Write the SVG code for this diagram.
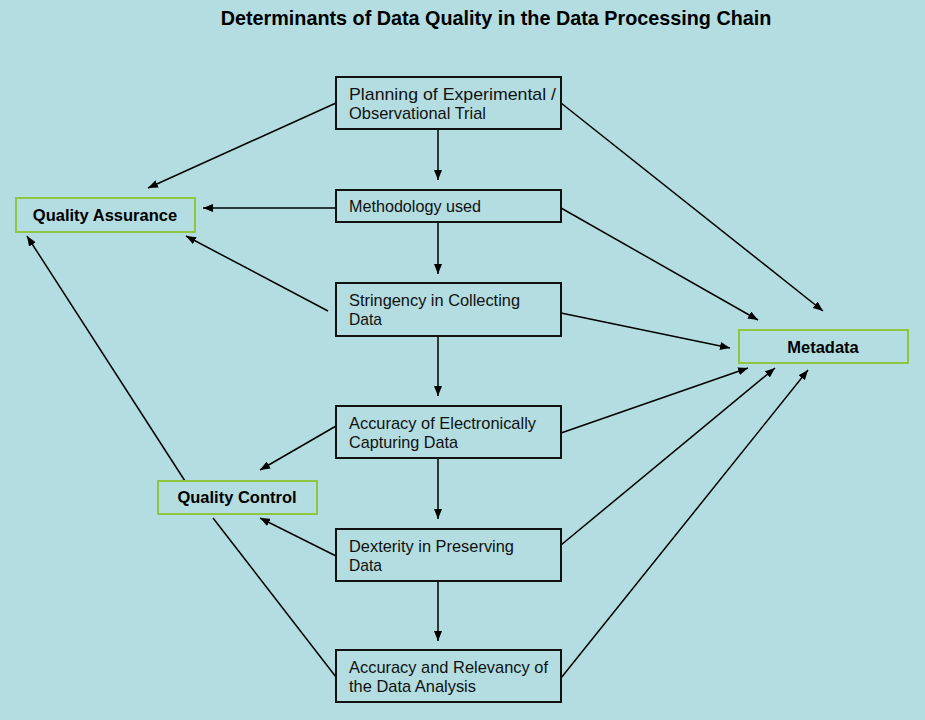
<svg xmlns="http://www.w3.org/2000/svg" width="925" height="720" viewBox="0 0 925 720">
<defs>
<marker id="ah" viewBox="0 0 10 8" refX="10" refY="4" markerWidth="10" markerHeight="8" markerUnits="userSpaceOnUse" orient="auto">
<path d="M0,0 L10,4 L0,8 z" fill="#000"/>
</marker>
<style>
.box{fill:#b3dde0;stroke:#111;stroke-width:2}
.gbox{fill:#b3dde0;stroke:#8dc63f;stroke-width:2}
.t{font-family:"Liberation Sans",Arial,sans-serif;font-size:17px;fill:#111}
.b{font-family:"Liberation Sans",Arial,sans-serif;font-size:16.5px;font-weight:bold;fill:#000;text-anchor:middle}
.c line{stroke:#000;stroke-width:1.5}
.c .a{marker-end:url(#ah)}
</style>
</defs>
<rect width="925" height="720" fill="#b3dde0"/>
<text x="496" y="25" font-family="Liberation Sans, Arial, sans-serif" font-size="19.8" font-weight="bold" text-anchor="middle" fill="#000">Determinants of Data Quality in the Data Processing Chain</text>

<g class="c" id="connectors">
<line class="a" x1="438" y1="129" x2="438" y2="180"/>
<line class="a" x1="438" y1="222" x2="438" y2="274"/>
<line class="a" x1="438" y1="336" x2="438" y2="396"/>
<line class="a" x1="438" y1="458" x2="438" y2="519"/>
<line class="a" x1="438" y1="581" x2="438" y2="641"/>
<line class="a" x1="336" y1="103" x2="148" y2="188"/>
<line class="a" x1="336" y1="208" x2="203" y2="208"/>
<line class="a" x1="328" y1="311" x2="186" y2="236"/>
<line class="a" x1="185" y1="481" x2="27" y2="236"/>
<line class="a" x1="336" y1="426" x2="260" y2="470"/>
<line class="a" x1="336" y1="556" x2="260" y2="518"/>
<line x1="213" y1="518" x2="336" y2="677"/>
<line class="a" x1="561" y1="103" x2="823" y2="311"/>
<line class="a" x1="561" y1="208" x2="758" y2="320"/>
<line class="a" x1="561" y1="313" x2="730" y2="348"/>
<line class="a" x1="561" y1="433" x2="748" y2="368"/>
<line class="a" x1="561" y1="545" x2="775" y2="368"/>
<line class="a" x1="561" y1="678" x2="808" y2="370"/>
</g>

<g id="planning"><rect class="box" x="336" y="77" width="225" height="52"/><text class="t" x="349" y="100" textLength="207" lengthAdjust="spacingAndGlyphs">Planning of Experimental /</text><text class="t" x="349" y="119" textLength="137" lengthAdjust="spacingAndGlyphs">Observational Trial</text></g>
<g id="methodology"><rect class="box" x="336" y="190" width="225" height="32"/><text class="t" x="349" y="212" textLength="132" lengthAdjust="spacingAndGlyphs">Methodology used</text></g>
<g id="stringency"><rect class="box" x="336" y="283" width="225" height="53"/><text class="t" x="349" y="306" textLength="171" lengthAdjust="spacingAndGlyphs">Stringency in Collecting</text><text class="t" x="349" y="325" textLength="33" lengthAdjust="spacingAndGlyphs">Data</text></g>
<g id="accuracy-capture"><rect class="box" x="336" y="406" width="225" height="52"/><text class="t" x="349" y="429" textLength="187" lengthAdjust="spacingAndGlyphs">Accuracy of Electronically</text><text class="t" x="349" y="448" textLength="109" lengthAdjust="spacingAndGlyphs">Capturing Data</text></g>
<g id="dexterity"><rect class="box" x="336" y="529" width="225" height="52"/><text class="t" x="349" y="552" textLength="165" lengthAdjust="spacingAndGlyphs">Dexterity in Preserving</text><text class="t" x="349" y="571" textLength="33" lengthAdjust="spacingAndGlyphs">Data</text></g>
<g id="accuracy-analysis"><rect class="box" x="336" y="650" width="225" height="52"/><text class="t" x="349" y="673" textLength="199" lengthAdjust="spacingAndGlyphs">Accuracy and Relevancy of</text><text class="t" x="349" y="692" textLength="127" lengthAdjust="spacingAndGlyphs">the Data Analysis</text></g>
<g id="quality-assurance"><rect class="gbox" x="16" y="198" width="179" height="34"/><text class="b" x="105" y="221">Quality Assurance</text></g>
<g id="quality-control"><rect class="gbox" x="158" y="481" width="159" height="33"/><text class="b" x="237" y="503">Quality Control</text></g>
<g id="metadata"><rect class="gbox" x="739" y="330" width="169" height="33"/><text class="b" x="823" y="353">Metadata</text></g>
</svg>
